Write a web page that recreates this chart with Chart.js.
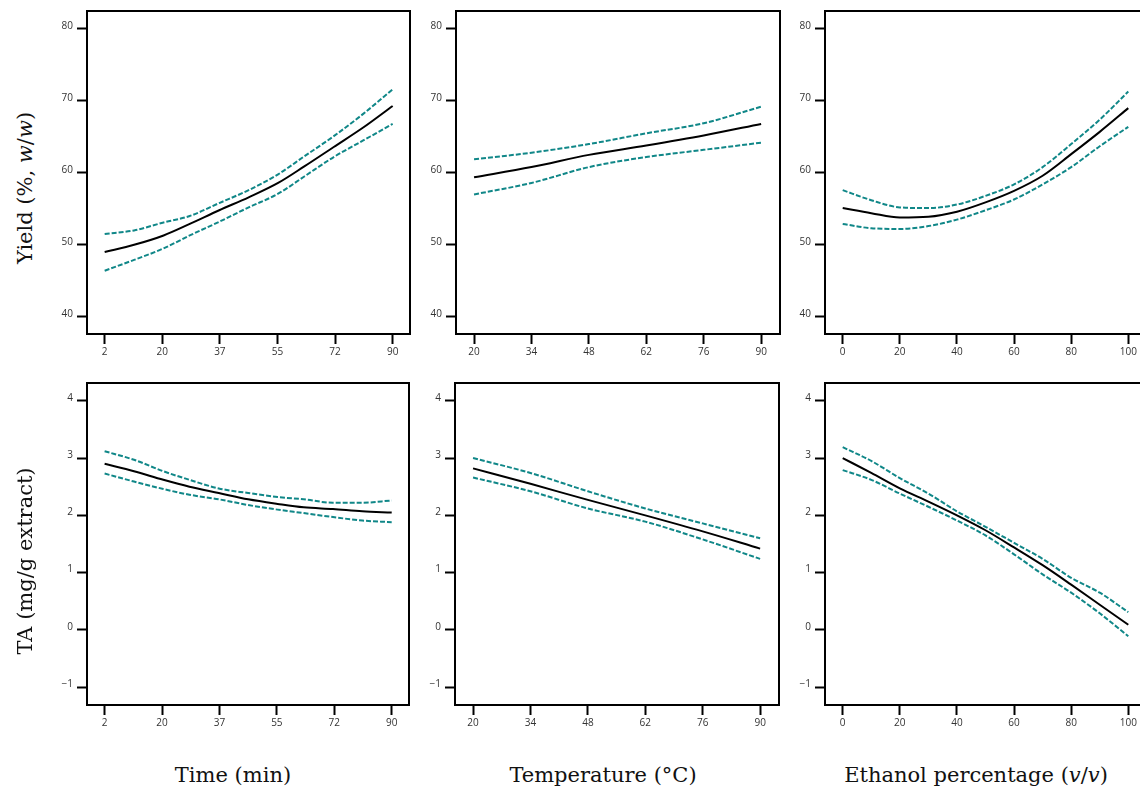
<!DOCTYPE html>
<html><head><meta charset="utf-8">
<script src="https://cdn.jsdelivr.net/npm/chart.js@4.4.0/dist/chart.umd.min.js"></script>
<style>
html,body{margin:0;padding:0;background:#fff;}
#wrap{position:relative;width:1140px;height:789px;overflow:hidden;background:#fff;}
canvas{position:absolute;}
.t{position:absolute;font-family:"DejaVu Serif",serif;font-size:21px;color:#111;white-space:nowrap;line-height:1;}
.yt{transform:translate(-50%,-50%) rotate(-90deg);}
.xt{transform:translate(-50%,-50%);}
</style></head><body>
<div id="wrap">
<canvas id="c1"></canvas><canvas id="c2"></canvas><canvas id="c3"></canvas>
<canvas id="c4"></canvas><canvas id="c5"></canvas><canvas id="c6"></canvas>
<div class="t yt" style="left:25px;top:188px;">Yield (%, <i>w</i>/<i>w</i>)</div>
<div class="t yt" style="left:25px;top:561px;">TA (mg/g extract)</div>
<div class="t xt" style="left:233px;top:775px;">Time (min)</div>
<div class="t xt" style="left:603px;top:775px;">Temperature (°C)</div>
<div class="t xt" style="left:976px;top:775px;">Ethanol percentage (<i>v</i>/<i>v</i>)</div>
</div>
<script>
// ---- data ----
const timeX = [2, 11, 20, 28, 37, 46, 55, 63, 72, 81, 90];
const tempX = [20, 34, 48, 62, 76, 90];
const ethX = [0, 10, 20, 30, 40, 50, 60, 70, 80, 90, 100];

const yieldTimeMean  = [49.0, 50.0, 51.3, 52.9, 54.8, 56.6, 58.6, 60.9, 63.6, 66.3, 69.3];
const yieldTimeUpper = [51.5, 52.0, 53.1, 54.0, 55.8, 57.6, 59.8, 62.3, 65.1, 68.2, 71.6];
const yieldTimeLower = [46.4, 47.9, 49.5, 51.3, 53.2, 55.2, 57.1, 59.5, 62.2, 64.5, 66.8];

const yieldTempMean  = [59.4, 60.8, 62.5, 63.8, 65.2, 66.8];
const yieldTempUpper = [61.9, 62.8, 64.0, 65.5, 66.9, 69.2];
const yieldTempLower = [57.0, 58.6, 60.8, 62.2, 63.2, 64.2];

const yieldEthMean  = [55.1, 54.4, 53.8, 53.9, 54.6, 55.9, 57.5, 59.6, 62.6, 65.7, 69.0];
const yieldEthUpper = [57.6, 56.2, 55.2, 55.1, 55.6, 56.8, 58.4, 60.8, 64.0, 67.4, 71.3];
const yieldEthLower = [52.9, 52.3, 52.2, 52.6, 53.5, 54.8, 56.3, 58.4, 60.8, 63.7, 66.4];

const taTimeMean  = [2.90, 2.77, 2.62, 2.50, 2.39, 2.28, 2.20, 2.14, 2.11, 2.07, 2.05];
const taTimeUpper = [3.12, 2.97, 2.77, 2.62, 2.47, 2.39, 2.32, 2.28, 2.22, 2.22, 2.26];
const taTimeLower = [2.73, 2.59, 2.46, 2.36, 2.28, 2.18, 2.10, 2.04, 1.97, 1.91, 1.88];

const taTempMean  = [2.82, 2.55, 2.27, 2.00, 1.72, 1.42];
const taTempUpper = [3.00, 2.74, 2.42, 2.12, 1.86, 1.60];
const taTempLower = [2.66, 2.42, 2.12, 1.89, 1.58, 1.24];

const taEthMean  = [3.00, 2.74, 2.47, 2.24, 2.00, 1.74, 1.44, 1.13, 0.79, 0.44, 0.09];
const taEthUpper = [3.19, 2.95, 2.65, 2.38, 2.07, 1.80, 1.52, 1.24, 0.91, 0.65, 0.31];
const taEthLower = [2.79, 2.62, 2.38, 2.15, 1.91, 1.65, 1.32, 0.97, 0.65, 0.29, -0.11];

// ---- tick labels ----
const timeTickValues = [2, 19.6, 37.2, 54.8, 72.4, 90];
const timeTickLabels = ['2', '20', '37', '55', '72', '90'];
const tempTickValues = [20, 34, 48, 62, 76, 90];
const tempTickLabels = ['20', '34', '48', '62', '76', '90'];
const ethTickValues = [0, 20, 40, 60, 80, 100];
const ethTickLabels = ['0', '20', '40', '60', '80', '100'];
const yieldTickValues = [40, 50, 60, 70, 80];
const yieldTickLabels = ['40', '50', '60', '70', '80'];
const taTickValues = [-1, 0, 1, 2, 3, 4];
const taTickLabels = ['\u22121', '0', '1', '2', '3', '4'];

// ---- drawing ----
const TEAL = '#108788';
const YW = 50, XH = 36, PT = 14, PR = 6;

const framePlugin = {
  id: 'frame',
  afterDraw(chart) {
    const a = chart.chartArea, ctx = chart.ctx;
    ctx.save();
    ctx.strokeStyle = '#000';
    ctx.lineWidth = 2;
    ctx.strokeRect(a.left, a.top, a.right - a.left, a.bottom - a.top);
    ctx.restore();
  }
};

function pts(xs, ys) { return xs.map((x, i) => ({ x: x, y: ys[i] })); }

function panel(id, area, xRange, yRange, xtv, xtl, ytv, ytl, xs, mean, up, lo) {
  const cv = document.getElementById(id);
  const w = area.R - area.L + YW + PR, h = area.B - area.T + PT + XH;
  cv.width = w; cv.height = h;
  cv.style.left = (area.L - YW) + 'px';
  cv.style.top = (area.T - PT) + 'px';
  cv.style.width = w + 'px'; cv.style.height = h + 'px';
  const tickFont = { family: '"Open Sans", "DejaVu Sans", sans-serif', size: 10 };
  new Chart(cv, {
    type: 'line',
    data: {
      datasets: [
        { data: pts(xs, up), borderColor: TEAL, borderWidth: 2, borderDash: [5, 2], pointRadius: 0, cubicInterpolationMode: 'monotone', fill: false },
        { data: pts(xs, lo), borderColor: TEAL, borderWidth: 2, borderDash: [5, 2], pointRadius: 0, cubicInterpolationMode: 'monotone', fill: false },
        { data: pts(xs, mean), borderColor: '#000', borderWidth: 2, pointRadius: 0, cubicInterpolationMode: 'monotone', fill: false }
      ]
    },
    options: {
      responsive: false, animation: false, devicePixelRatio: 1,
      layout: { padding: { top: PT, right: PR, left: 0, bottom: 0 } },
      plugins: { legend: { display: false }, tooltip: { enabled: false } },
      scales: {
        x: {
          type: 'linear', min: xRange[0], max: xRange[1],
          afterFit(s) { s.height = XH; },
          afterBuildTicks(s) { s.ticks = xtv.map(v => ({ value: v })); },
          border: { display: false },
          grid: { drawOnChartArea: false, drawTicks: true, tickLength: 10, tickWidth: 2, tickColor: '#000' },
          ticks: { font: tickFont, color: '#333', padding: 2, maxRotation: 0, autoSkip: false,
                   callback: (v, i) => xtl[i] }
        },
        y: {
          type: 'linear', min: yRange[0], max: yRange[1],
          afterFit(s) { s.width = YW; },
          afterBuildTicks(s) { s.ticks = ytv.map(v => ({ value: v })); },
          border: { display: false },
          grid: { drawOnChartArea: false, drawTicks: true, tickLength: 10, tickWidth: 2, tickColor: '#000' },
          ticks: { font: tickFont, color: '#333', padding: 4, labelOffset: -3, autoSkip: false,
                   callback: (v, i) => ytl[i] }
        }
      }
    },
    plugins: [framePlugin]
  });
}

const yieldRange = [37.6, 82.5];
const taRange = [-1.31, 4.31];
const timeRange = [-3.4, 95.3];
const tempRange = [15.6, 94.6];
const ethRange = [-6.2, 106.9];

panel('c1', { L: 87, R: 410, T: 11, B: 334 }, timeRange, yieldRange, timeTickValues, timeTickLabels, yieldTickValues, yieldTickLabels, timeX, yieldTimeMean, yieldTimeUpper, yieldTimeLower);
panel('c2', { L: 456, R: 780, T: 11, B: 334 }, tempRange, yieldRange, tempTickValues, tempTickLabels, yieldTickValues, yieldTickLabels, tempX, yieldTempMean, yieldTempUpper, yieldTempLower);
panel('c3', { L: 825, R: 1148, T: 11, B: 334 }, ethRange, yieldRange, ethTickValues, ethTickLabels, yieldTickValues, yieldTickLabels, ethX, yieldEthMean, yieldEthUpper, yieldEthLower);
panel('c4', { L: 87, R: 409, T: 383, B: 705 }, timeRange, taRange, timeTickValues, timeTickLabels, taTickValues, taTickLabels, timeX, taTimeMean, taTimeUpper, taTimeLower);
panel('c5', { L: 455, R: 779, T: 383, B: 705 }, tempRange, taRange, tempTickValues, tempTickLabels, taTickValues, taTickLabels, tempX, taTempMean, taTempUpper, taTempLower);
panel('c6', { L: 825, R: 1148, T: 383, B: 705 }, ethRange, taRange, ethTickValues, ethTickLabels, taTickValues, taTickLabels, ethX, taEthMean, taEthUpper, taEthLower);
</script>
</body></html>
